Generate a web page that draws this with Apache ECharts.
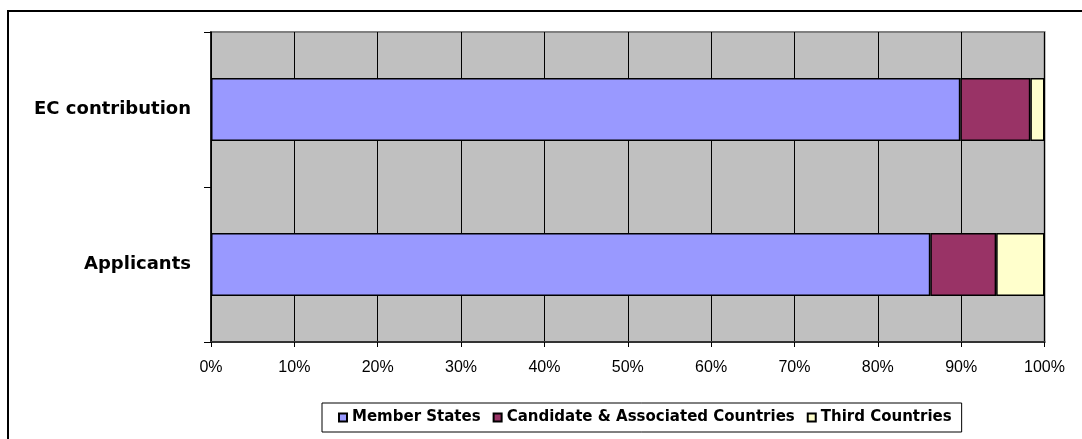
<!DOCTYPE html>
<html><head><meta charset="utf-8">
<script src="https://cdn.jsdelivr.net/npm/echarts@6/dist/echarts.min.js"></script>
<style>html,body{margin:0;padding:0;background:#fff}#c{width:1082px;height:439px}</style>
</head><body><div id="c"></div>
<script>
// categories bottom-to-top (ECharts category y axis starts at the bottom)
const categories = ['Applicants', 'EC contribution'];
const seriesNames = ['Member States', 'Candidate & Associated Countries', 'Third Countries'];
const memberStates = [86.3, 89.9];
const candidateAssociated = [7.9, 8.4];
const thirdCountries = [5.8, 1.7];
const seriesColors = ['#9999FF', '#993366', '#FFFFCC'];
const xMin = 0, xMax = 100, xStep = 10;

const chart = echarts.init(document.getElementById('c'), null, {renderer: 'canvas'});
const values = [memberStates, candidateAssociated, thirdCountries];
const series = seriesNames.map((name, i) => ({
  name: name,
  type: 'bar',
  stack: 'total',
  barWidth: 63,
  data: values[i],
  itemStyle: {color: seriesColors[i], borderColor: '#000', borderWidth: 1.5},
  emphasis: {disabled: true}
}));

chart.setOption({
  animation: false,
  backgroundColor: '#fff',
  graphic: [{
    type: 'rect', silent: true, z: 0,
    shape: {x: 8, y: 11, width: 1300, height: 700},
    style: {fill: 'none', stroke: '#000', lineWidth: 2}
  }],
  grid: {
    left: 211, right: 37.5, top: 32, bottom: 97,
    show: true, backgroundColor: '#C0C0C0', borderColor: '#808080', borderWidth: 2
  },
  legend: {
    data: seriesNames,
    left: 322, top: 403,
    orient: 'horizontal',
    icon: 'rect',
    itemWidth: 8, itemHeight: 8, itemGap: 12,
    borderColor: '#000', borderWidth: 1, borderRadius: 0,
    padding: [7, 10, 7, 16],
    selectedMode: false,
    textStyle: {fontFamily: 'DejaVu Sans', fontWeight: 'bold', fontSize: 15, color: '#000'}
  },
  xAxis: {
    type: 'value', min: xMin, max: xMax, interval: xStep,
    axisLine: {show: true, lineStyle: {color: '#333', width: 2}},
    axisTick: {show: true, length: 5, lineStyle: {color: '#000', width: 1}},
    splitLine: {show: true, lineStyle: {color: '#000', width: 1}},
    axisLabel: {formatter: '{value}%', fontFamily: 'Liberation Sans', fontSize: 16, color: '#000', margin: 18}
  },
  yAxis: {
    type: 'category', data: categories,
    axisLine: {show: true, lineStyle: {color: '#000', width: 1.5}},
    axisTick: {show: true, length: 7, lineStyle: {color: '#000', width: 1}},
    axisLabel: {fontFamily: 'DejaVu Sans', fontWeight: 'bold', fontSize: 18, color: '#000', margin: 20}
  },
  series: series
});
</script></body></html>
